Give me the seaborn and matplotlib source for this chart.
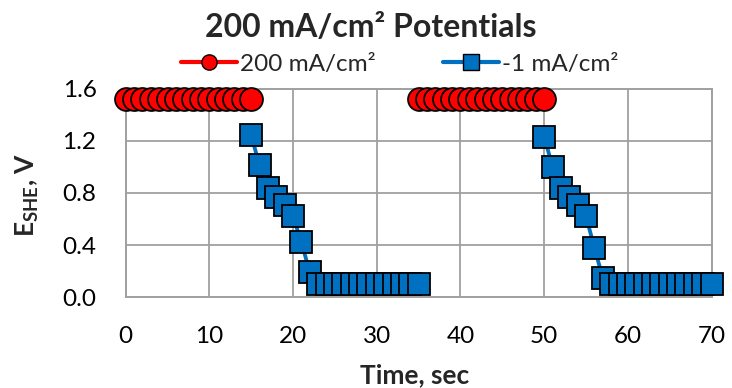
import matplotlib
matplotlib.use("Agg")
import matplotlib.pyplot as plt
from matplotlib.lines import Line2D
from matplotlib.ticker import MultipleLocator
import pandas as pd
import seaborn as sns

# Time (s) and potential (V vs SHE) for the two current steps, two cycles
anodic_time_1 = [0, 1, 2, 3, 4, 5, 6, 7, 8, 9, 10, 11, 12, 13, 14, 15]
anodic_e_1 = [1.52, 1.52, 1.52, 1.52, 1.52, 1.52, 1.52, 1.52,
              1.52, 1.52, 1.52, 1.52, 1.52, 1.52, 1.52, 1.52]
anodic_time_2 = [35, 36, 37, 38, 39, 40, 41, 42, 43, 44, 45, 46, 47, 48, 49, 50]
anodic_e_2 = [1.52, 1.52, 1.52, 1.52, 1.52, 1.52, 1.52, 1.52,
              1.52, 1.52, 1.52, 1.52, 1.52, 1.52, 1.52, 1.52]

cathodic_time_1 = [15, 16, 17, 18, 19, 20, 21, 22, 23, 24, 25, 26, 27, 28, 29,
                   30, 31, 32, 33, 34, 35]
cathodic_e_1 = [1.24, 1.01, 0.84, 0.77, 0.71, 0.62, 0.42, 0.19, 0.10, 0.10,
                0.10, 0.10, 0.10, 0.10, 0.10, 0.10, 0.10, 0.10, 0.10, 0.10, 0.10]
cathodic_time_2 = [50, 51, 52, 53, 54, 55, 56, 57, 58, 59, 60, 61, 62, 63, 64,
                   65, 66, 67, 68, 69, 70]
cathodic_e_2 = [1.23, 1.00, 0.84, 0.77, 0.71, 0.62, 0.38, 0.15, 0.10, 0.10,
                0.10, 0.10, 0.10, 0.10, 0.10, 0.10, 0.10, 0.10, 0.10, 0.10, 0.10]

series_labels = ["200 mA/cm\u00b2", "-1 mA/cm\u00b2"]
title_text = "200 mA/cm\u00b2 Potentials"
x_label = "Time, sec"
y_ticks = [0.0, 0.4, 0.8, 1.2, 1.6]
x_ticks = [0, 10, 20, 30, 40, 50, 60, 70]

RED = "#FF0000"
BLUE = "#0070C0"
GRID = "#A0A0A0"

sns.set_theme(style="white")
plt.rcParams["font.family"] = ["Lato", "DejaVu Sans"]
plt.rcParams["mathtext.fontset"] = "custom"
plt.rcParams["mathtext.rm"] = "Lato"
plt.rcParams["mathtext.bf"] = "Lato:bold"

fig = plt.figure(figsize=(7.32, 3.88), dpi=100)
ax = fig.add_axes([0.1717, 0.2338, 0.8004, 0.5381])

segments = [
    (cathodic_time_1, cathodic_e_1, BLUE, "s"),
    (cathodic_time_2, cathodic_e_2, BLUE, "s"),
    (anodic_time_1, anodic_e_1, RED, "o"),
    (anodic_time_2, anodic_e_2, RED, "o"),
]
for t, e, color, marker in segments:
    df = pd.DataFrame({"t": t, "E": e})
    sns.lineplot(data=df, x="t", y="E", ax=ax, color=color, linewidth=2.75,
                 marker=marker, markersize=16.5, markeredgecolor="black",
                 markeredgewidth=1.3, markerfacecolor=color, clip_on=False,
                 estimator=None, sort=False, legend=False, zorder=3)

ax.set_xlim(0, 70)
ax.set_ylim(0, 1.6)
ax.set_xticks(x_ticks)
ax.set_yticks(y_ticks)
ax.set_yticklabels([f"{v:.1f}" for v in y_ticks])
ax.xaxis.set_minor_locator(MultipleLocator(5))
ax.yaxis.set_minor_locator(MultipleLocator(0.2))
ax.grid(True, which="major", color=GRID, linewidth=1.3)
ax.set_axisbelow(True)
for side in ["left", "bottom", "top", "right"]:
    ax.spines[side].set_color(GRID)
    ax.spines[side].set_linewidth(1.4)
ax.tick_params(which="both", direction="out", color=GRID, width=1.4,
               labelsize=17.5, labelcolor="black")
ax.tick_params(which="major", length=8, pad=13)
ax.tick_params(which="minor", length=6)

ax.set_xlabel(x_label, fontsize=19, fontweight="bold")
ax.xaxis.label.set_va("baseline")
ax.xaxis.set_label_coords(0.494, -0.41)
ax.set_ylabel(r"$\mathbf{E_{SHE}}$, V", fontsize=19, fontweight="bold")
ax.yaxis.label.set_va("center")
ax.yaxis.set_label_coords(-0.167, 0.49)

fig.text(0.507, 0.905, title_text, ha="center", va="baseline", fontsize=23,
         fontweight="bold")

handles = [
    Line2D([], [], color=RED, linewidth=3, marker="o", markersize=11,
           markeredgecolor="black", markerfacecolor=RED),
    Line2D([], [], color=BLUE, linewidth=3, marker="s", markersize=11,
           markeredgecolor="black", markerfacecolor=BLUE),
]
fig.legend(handles, series_labels, loc="center", bbox_to_anchor=(0.546, 0.835),
           ncol=2, frameon=False, fontsize=17.5, handlelength=2.3,
           handletextpad=0.12, columnspacing=2.8, borderaxespad=0,
           borderpad=0)

fig.savefig("out.png", dpi=100)
